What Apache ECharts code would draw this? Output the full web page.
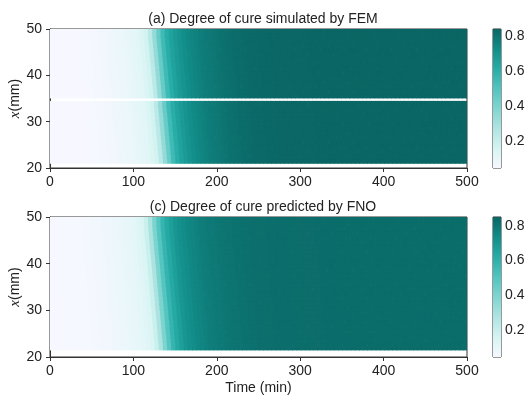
<!DOCTYPE html>
<html>
<head>
<meta charset="utf-8">
<script src="https://cdn.jsdelivr.net/npm/echarts@6/dist/echarts.min.js"></script>
<style>
  html, body { margin: 0; padding: 0; background: #fff; }
  #chart { width: 530px; height: 399px; }
</style>
</head>
<body>
<div id="chart"></div>
<script>
// time grid, one value every 5 min from 0 to 500
const timeStep = 5
// degree of cure along time at the upper edge (x = 50 mm)
const cureFEM = [
  0.05, 0.05, 0.05, 0.05, 0.05, 0.05, 0.05, 0.05, 0.055, 0.055,
  0.06, 0.06, 0.065, 0.07, 0.075, 0.08, 0.085, 0.09, 0.095, 0.10,
  0.11, 0.12, 0.14, 0.17, 0.24, 0.34, 0.45, 0.55, 0.61, 0.65,
  0.68, 0.70, 0.72, 0.735, 0.75, 0.76, 0.77, 0.78, 0.785, 0.79,
  0.80, 0.805, 0.81, 0.815, 0.82, 0.822, 0.825, 0.827, 0.83, 0.832,
  0.834, 0.835, 0.835, 0.836, 0.836, 0.837, 0.837, 0.837, 0.838, 0.838,
  0.838, 0.838, 0.839, 0.839, 0.839, 0.839, 0.839, 0.84, 0.84, 0.84,
  0.84, 0.84, 0.84, 0.84, 0.84, 0.84, 0.84, 0.84, 0.84, 0.84,
  0.84, 0.84, 0.84, 0.84, 0.84, 0.84, 0.84, 0.84, 0.84, 0.84,
  0.84, 0.84, 0.84, 0.84, 0.84, 0.84, 0.84, 0.84, 0.84, 0.84,
  0.84
]
const cureFNO = [
  0.045, 0.045, 0.05, 0.05, 0.05, 0.05, 0.05, 0.05, 0.055, 0.055,
  0.06, 0.06, 0.065, 0.07, 0.075, 0.08, 0.085, 0.09, 0.095, 0.10,
  0.11, 0.12, 0.145, 0.19, 0.28, 0.40, 0.50, 0.58, 0.63, 0.67,
  0.70, 0.72, 0.735, 0.75, 0.76, 0.77, 0.78, 0.785, 0.79, 0.795,
  0.80, 0.805, 0.81, 0.81, 0.815, 0.815, 0.82, 0.82, 0.822, 0.822,
  0.824, 0.824, 0.825, 0.825, 0.826, 0.826, 0.826, 0.827, 0.827, 0.827,
  0.828, 0.828, 0.828, 0.828, 0.829, 0.829, 0.829, 0.829, 0.83, 0.83,
  0.83, 0.83, 0.83, 0.83, 0.83, 0.83, 0.83, 0.83, 0.83, 0.83,
  0.83, 0.83, 0.83, 0.83, 0.83, 0.83, 0.83, 0.83, 0.83, 0.83,
  0.83, 0.83, 0.83, 0.83, 0.83, 0.83, 0.83, 0.83, 0.83, 0.83,
  0.83
]
// position bands (mm) and the delay (min) of the cure front in each band
const bandsFEM = [
  [21, 22], [22, 23], [23, 24], [24, 25], [25, 26], [26, 27], [27, 28], [28, 29],
  [29, 30], [30, 31], [31, 32], [32, 33], [33, 34.4],
  [35.1, 36], [36, 37], [37, 38], [38, 39], [39, 40], [40, 41], [41, 42], [42, 43],
  [43, 44], [44, 45], [45, 46], [46, 47], [47, 48], [48, 49], [49, 50]
]
const lagFEM = [
  13, 12.5, 12, 11.5, 11, 10.5, 10, 9.5, 9, 8.5, 8, 7.5, 7,
  6.5, 6, 5.5, 5, 4.5, 4, 3.5, 3, 2.5, 2, 1.5, 1, 0.5, 0, 0
]
const bandsFNO = [
  [21.5, 22], [22, 23], [23, 24], [24, 25], [25, 26], [26, 27], [27, 28], [28, 29],
  [29, 30], [30, 31], [31, 32], [32, 33], [33, 34], [34, 35], [35, 36], [36, 37],
  [37, 38], [38, 39], [39, 40], [40, 41], [41, 42], [42, 43], [43, 44], [44, 45],
  [45, 46], [46, 47], [47, 48], [48, 49], [49, 50]
]
const lagFNO = [
  13, 12.8, 12.3, 11.8, 11.3, 10.8, 10.3, 9.8, 9.3, 8.8, 8.3, 7.8, 7.3, 6.8, 6.3,
  5.8, 5.3, 4.8, 4.3, 3.8, 3.3, 2.8, 2.3, 1.8, 1.3, 0.8, 0.3, 0, 0
]
const rangeFEM = [0.05, 0.84]
const rangeFNO = [0.045, 0.85]
const barTicks = [0.2, 0.4, 0.6, 0.8]
const cmap = ['#f7f8ff', '#d4f4f2', '#aee4e2', '#80d5d1', '#52c4bf', '#27aca7', '#128d89', '#0a6664']

const font = "'Liberation Sans', Arial, sans-serif"
const fs = 14

function buildCells (cure, bands, lags) {
  let cells = []
  bands.forEach((b, k) => {
    cure.forEach((v, i) => {
      let t = i * timeStep + lags[k]
      let t0 = i === 0 ? 0 : Math.max(0, t - timeStep / 2)
      let t1 = Math.min(500, t + timeStep / 2)
      if (t1 > t0) cells.push([t0, t1, b[0], b[1], v])
    })
  })
  return cells
}

function renderCell (params, api) {
  let p0 = api.coord([api.value(0), api.value(3)])
  let p1 = api.coord([api.value(1), api.value(2)])
  return {
    type: 'rect',
    shape: {x: p0[0], y: p0[1] - 0.4, width: p1[0] - p0[0] + 0.7, height: p1[1] - p0[1] + 0.8},
    style: {fill: api.visual('color')}
  }
}

function renderBar (params, api) {
  let p0 = api.coord([0, api.value(1)])
  let p1 = api.coord([1, api.value(0)])
  let stops = cmap.map((c, i) => ({offset: i / (cmap.length - 1), color: c}))
  return {
    type: 'rect',
    shape: {x: p0[0], y: p0[1], width: p1[0] - p0[0], height: p1[1] - p0[1]},
    style: {fill: new echarts.graphic.LinearGradient(0, 1, 0, 0, stops)}
  }
}

function mainX (gi, withName) {
  return {
    type: 'value', gridIndex: gi, min: 0, max: 500, interval: 100,
    name: withName ? 'Time (min)' : '', nameLocation: 'middle', nameGap: 24, nameMoveOverlap: false,
    nameTextStyle: {color: '#222', fontSize: fs, fontFamily: font},
    axisLine: {show: true, onZero: false, lineStyle: {color: '#333', width: 1}},
    axisTick: {show: true, length: 4, lineStyle: {color: '#333'}},
    axisLabel: {color: '#222', fontSize: fs, fontFamily: font, margin: 7},
    splitLine: {show: false}
  }
}

function mainY (gi) {
  return {
    type: 'value', gridIndex: gi, min: 20, max: 50, interval: 10,
    name: '{i|x}(mm)', nameLocation: 'middle', nameGap: 27, nameRotate: 90, nameMoveOverlap: false,
    nameTextStyle: {
      color: '#222', fontSize: fs, fontFamily: font,
      rich: {i: {fontStyle: 'italic', fontFamily: "'Liberation Serif', serif", fontSize: fs + 1, color: '#222'}}
    },
    axisLine: {show: true, onZero: false, lineStyle: {color: '#333', width: 1}},
    axisTick: {show: true, length: 4, lineStyle: {color: '#333'}},
    axisLabel: {color: '#222', fontSize: fs, fontFamily: font, margin: 8},
    splitLine: {show: false}
  }
}

function barX (gi) {
  return {type: 'value', gridIndex: gi, min: 0, max: 1, show: false}
}

function barY (gi, range) {
  return {
    type: 'value', gridIndex: gi, min: range[0], max: range[1], position: 'right',
    axisLine: {show: false},
    axisTick: {show: true, length: 3, customValues: barTicks, lineStyle: {color: '#333'}},
    axisLabel: {color: '#222', fontSize: fs, fontFamily: font, margin: 4, customValues: barTicks,
      formatter: v => v.toFixed(1)},
    splitLine: {show: false}
  }
}

function box (left, top, width, height) {
  return {left: left, top: top, width: width, height: height, show: true,
    borderColor: '#333', borderWidth: 1, containLabel: false, outerBoundsMode: 'none'}
}

let myChart = echarts.init(document.getElementById('chart'), null, {renderer: 'canvas'})
myChart.setOption({
  animation: false,
  title: [
    {text: '(a) Degree of cure simulated by FEM', left: 258, top: 7, textAlign: 'center',
      textStyle: {fontSize: fs, fontWeight: 'normal', color: '#222', fontFamily: font}},
    {text: '(c) Degree of cure predicted by FNO', left: 258, top: 195, textAlign: 'center',
      textStyle: {fontSize: fs, fontWeight: 'normal', color: '#222', fontFamily: font}}
  ],
  grid: [
    box(50, 29, 417, 139),
    box(50, 217, 417, 140),
    box(493, 29, 8, 139),
    box(493, 217, 8, 140)
  ],
  xAxis: [mainX(0, false), mainX(1, true), barX(2), barX(3)],
  yAxis: [mainY(0), mainY(1), barY(2, rangeFEM), barY(3, rangeFNO)],
  visualMap: [
    {type: 'continuous', show: false, seriesIndex: 0, dimension: 4, min: rangeFEM[0], max: rangeFEM[1], inRange: {color: cmap}},
    {type: 'continuous', show: false, seriesIndex: 1, dimension: 4, min: rangeFNO[0], max: rangeFNO[1], inRange: {color: cmap}}
  ],
  series: [
    {
      type: 'custom', xAxisIndex: 0, yAxisIndex: 0, clip: true,
      renderItem: renderCell, encode: {x: [0, 1], y: [2, 3]},
      data: buildCells(cureFEM, bandsFEM, lagFEM)
    },
    {
      type: 'custom', xAxisIndex: 1, yAxisIndex: 1, clip: true,
      renderItem: renderCell, encode: {x: [0, 1], y: [2, 3]},
      data: buildCells(cureFNO, bandsFNO, lagFNO)
    },
    {
      type: 'custom', xAxisIndex: 2, yAxisIndex: 2, silent: true,
      renderItem: renderBar, encode: {y: [0, 1]}, data: [rangeFEM]
    },
    {
      type: 'custom', xAxisIndex: 3, yAxisIndex: 3, silent: true,
      renderItem: renderBar, encode: {y: [0, 1]}, data: [rangeFNO]
    }
  ]
})
</script>
</body>
</html>
